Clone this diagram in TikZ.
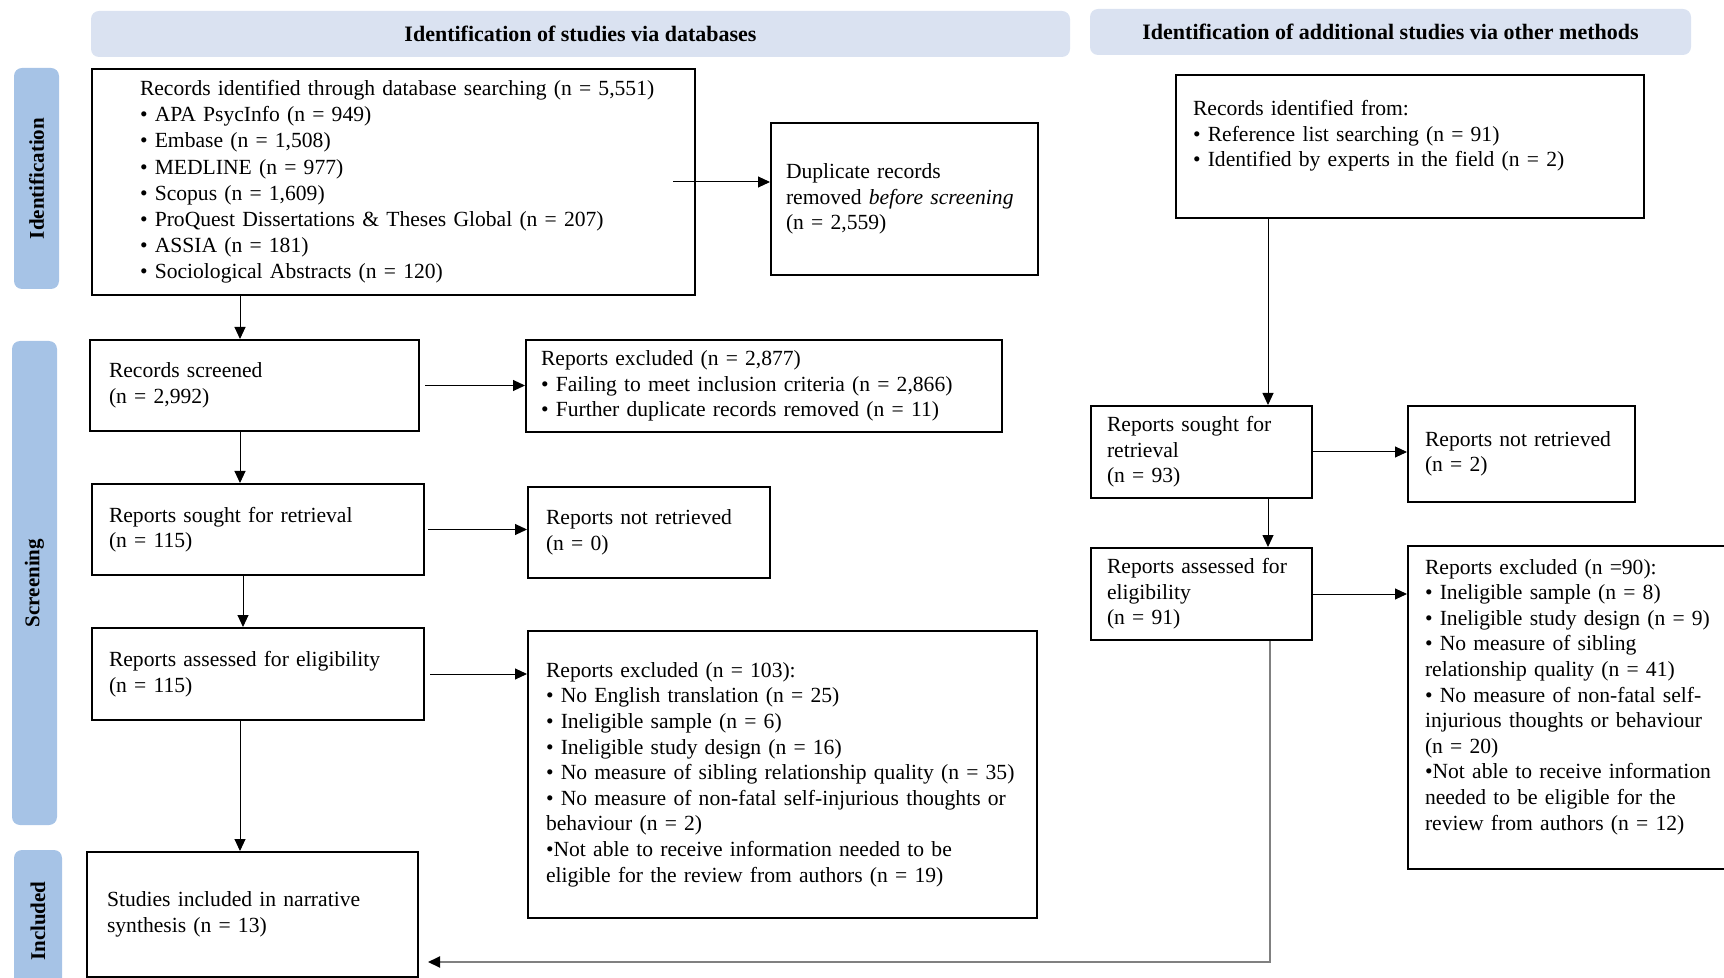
\documentclass[tikz,border=0pt]{standalone}
\usepackage{fontspec}
\setmainfont{Liberation Serif}
\usetikzlibrary{arrows.meta}
\definecolor{headblue}{HTML}{DAE2F1}
\definecolor{phaseblue}{HTML}{A6C3E6}

\begin{document}
\begin{tikzpicture}[x=0.5pt, y=-0.5pt, font=\fontsize{10.8}{12.8}\selectfont]
  \tikzstyle{head} = [fill=headblue, rounded corners=4pt, inner sep=0pt, font=\fontsize{11}{13}\selectfont\bfseries]
  \tikzstyle{phase} = [fill=phaseblue, rounded corners=4pt, inner sep=0pt, rotate=90, font=\fontsize{10.5}{12}\selectfont\bfseries]
  \tikzstyle{box} = [draw, line width=1pt, align=left, inner ysep=0pt]
  \tikzstyle{arr} = [line width=0.5pt, -{Triangle[length=6pt, width=5.5pt]}]
  \tikzstyle{ret} = [gray, line width=1pt, -{Triangle[length=6pt, width=5.5pt, black]}]
  \useasboundingbox (0,0) rectangle (1724,978);
  \clip (0,0) rectangle (1724,978);

  \node[head, minimum width=489.5pt, minimum height=23pt] (dbhead) at (580.5,34) {Identification of studies via databases};
  \node[head, minimum width=300.5pt, minimum height=23pt] (othhead) at (1390.5,32) {Identification of additional studies via other methods};
  \node[phase, minimum width=110.5pt, minimum height=22.5pt] (idbar) at (36.5,178.5) {Identification};
  \node[phase, minimum width=242pt, minimum height=22.5pt] (scrbar) at (34.5,583) {Screening};
  \node[phase, minimum width=71pt, minimum height=24pt] (incbar) at (38,921) {Included};

  \node[box, minimum width=301.5pt, minimum height=113pt, text width=253.5pt, inner xsep=24pt, font=\fontsize{10.8}{13.1}\selectfont] (dbrec) at (393.5,182)
    {\mbox{Records identified through database searching (n = 5,551)}\\
     • APA PsycInfo (n = 949)\\
     • Embase (n = 1,508)\\
     • MEDLINE (n = 977)\\
     • Scopus (n = 1,609)\\
     • ProQuest Dissertations \& Theses Global (n = 207)\\
     • ASSIA (n = 181)\\
     • Sociological Abstracts (n = 120)};
  \node[box, minimum width=133.5pt, minimum height=76pt, text width=118.5pt, inner xsep=7.5pt] (dup) at (904.5,199)
    {Duplicate records\\removed \textit{before screening}\\(n = 2,559)};
  \node[box, minimum width=234pt, minimum height=71.5pt, text width=217pt, inner xsep=8.5pt] (othrec) at (1410,146.5)
    {Records identified from:\\
     • Reference list searching (n = 91)\\
     • Identified by experts in the field (n = 2)\\ \mbox{}};

  \node[box, minimum width=164.5pt, minimum height=45.5pt, text width=145.5pt, inner xsep=9.5pt] (screened) at (254.5,385.5)
    {Records screened\\(n = 2,992)};
  \node[box, minimum width=238pt, minimum height=46pt, text width=223pt, inner xsep=7.5pt] (excl1) at (764,386)
    {Reports excluded (n = 2,877)\\
     • Failing to meet inclusion criteria (n = 2,866)\\
     • Further duplicate records removed (n = 11)};
  \node[box, minimum width=166pt, minimum height=45.5pt, text width=149pt, inner xsep=8.5pt] (sought) at (258,529.5)
    {Reports sought for retrieval\\(n = 115)};
  \node[box, minimum width=121pt, minimum height=45.5pt, text width=103pt, inner xsep=9pt] (notret) at (649,532.5)
    {Reports not retrieved\\(n = 0)};
  \node[box, minimum width=166pt, minimum height=46pt, text width=149pt, inner xsep=8.5pt] (assessed) at (258,674)
    {Reports assessed for eligibility\\(n = 115)};
  \node[box, minimum width=254.5pt, minimum height=143.5pt, text width=236.5pt, inner xsep=9pt] (excl2) at (782.5,774.5)
    {Reports excluded (n = 103):\\
     • No English translation (n = 25)\\
     • Ineligible sample (n = 6)\\
     • Ineligible study design (n = 16)\\
     \mbox{• No measure of sibling relationship quality (n = 35)}\\
     \mbox{• No measure of non-fatal self-injurious thoughts or}\\
     behaviour (n = 2)\\
     •Not able to receive information needed to be\\
     eligible for the review from authors (n = 19)};
  \node[box, minimum width=165.5pt, minimum height=62.5pt, text width=145.5pt, inner xsep=10pt] (included) at (252.5,914.5)
    {Studies included in narrative\\synthesis (n = 13)};

  \node[box, minimum width=110.5pt, minimum height=46pt, text width=94.5pt, inner xsep=8pt] (othsought) at (1201.5,452)
    {Reports sought for\\retrieval\\(n = 93)};
  \node[box, minimum width=113.5pt, minimum height=48pt, text width=96.5pt, inner xsep=8.5pt] (othnotret) at (1521.5,454)
    {Reports not retrieved\\(n = 2)};
  \node[box, minimum width=110.5pt, minimum height=46pt, text width=94.5pt, inner xsep=8pt] (othassessed) at (1201.5,594)
    {Reports assessed for\\eligibility\\(n = 91)};
  \node[box, minimum width=166pt, minimum height=161.5pt, text width=149pt, inner xsep=8.5pt] (othexcl) at (1574,707.5)
    {Reports excluded (n =90):\\
     • Ineligible sample (n = 8)\\
     • Ineligible study design (n = 9)\\
     • No measure of sibling\\
     relationship quality (n = 41)\\
     • No measure of non-fatal self-\\
     injurious thoughts or behaviour\\
     (n = 20)\\
     •Not able to receive information\\
     needed to be eligible for the\\
     review from authors (n = 12)\\ \mbox{}};

  \coordinate (spine) at (240,0);
  \coordinate (rspine) at (1268,0);
  \coordinate (turn) at (1270,962);
  \draw[arr] (dbrec.south -| spine) -- (screened.north -| spine);
  \draw[arr] (screened.south -| spine) -- (sought.north -| spine);
  \draw[arr] (sought.south -| 243,0) -- (assessed.north -| 243,0);
  \draw[arr] (assessed.south -| spine) -- (included.north -| spine);
  \draw[arr] ([xshift=-11.5pt]dbrec.east) -- (dbrec.east -| dup.west);
  \draw[arr] ([xshift=2.5pt]screened.east) -- (screened.east -| excl1.west);
  \draw[arr] ([xshift=1.5pt]sought.east) -- (sought.east -| notret.west);
  \draw[arr] ([xshift=2.5pt]assessed.east) -- (assessed.east -| excl2.west);
  \draw[arr] (othrec.south -| rspine) -- (othsought.north -| rspine);
  \draw[arr] (othsought.south -| rspine) -- (othassessed.north -| rspine);
  \draw[arr] (othsought.east) -- (othsought.east -| othnotret.west);
  \draw[arr] (othassessed.east) -- (othassessed.east -| othexcl.west);
  \draw[ret] (othassessed.south -| turn) -- (turn) -- ([xshift=4.5pt]included.east |- turn);
\end{tikzpicture}
\end{document}
